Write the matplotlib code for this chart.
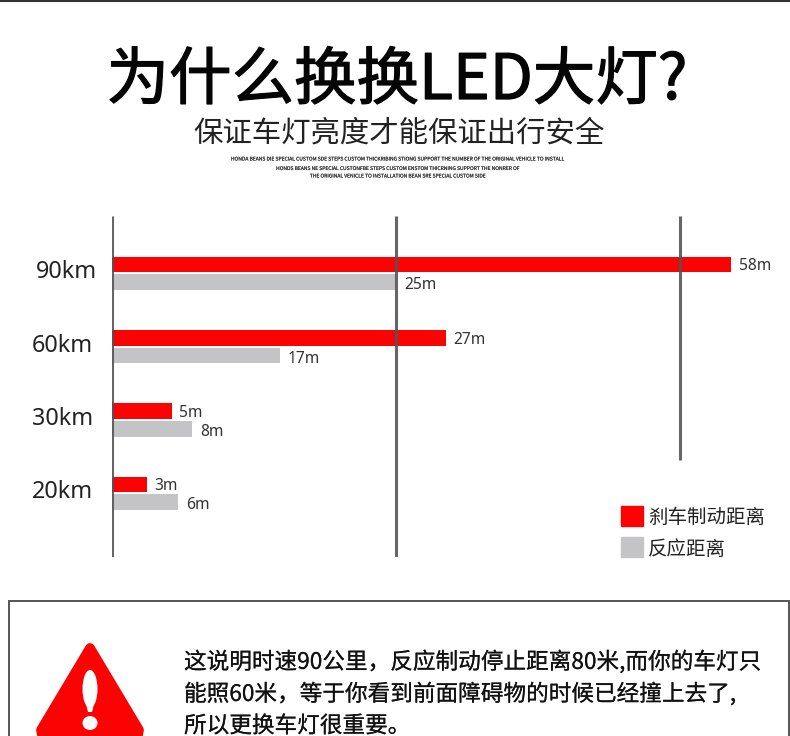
import matplotlib
matplotlib.use('Agg')
import matplotlib.pyplot as plt
import matplotlib.patheffects as pe
from matplotlib.patches import Rectangle, Polygon, Ellipse

plt.rcParams['font.family'] = ['Noto Sans CJK SC', 'DejaVu Sans']
LATIN = ['Noto Sans', 'Noto Sans CJK SC']

speeds = ['90km', '60km', '30km', '20km']
brake_lengths = [54.5, 29.4, 5.25, 3.05]
react_lengths = [25.0, 14.75, 7.05, 5.85]
brake_labels = ['58m', '27m', '5m', '3m']
react_labels = ['25m', '17m', '8m', '6m']
grid_values = [0, 25, 50]

W, H = 790, 736
fig = plt.figure(figsize=(W/100, H/100), dpi=100)
bg = fig.add_axes([0, 0, 1, 1])
bg.set_xlim(0, W); bg.set_ylim(H, 0); bg.axis('off')

def T(x, y, s, size, color='#111111', ha='center', bold=0, **kw):
    t = bg.text(x, y, s, fontsize=size, color=color, ha=ha, va='center', **kw)
    if bold:
        t.set_path_effects([pe.withStroke(linewidth=bold, foreground=color)])
    return t

bg.plot([0, W], [0.7, 0.7], color='#333333', lw=1.5)
T(397, 81, '为什么换换LED大灯?', 45, color='#050505', bold=0.9)
T(399, 133, '保证车灯亮度才能保证出行安全', 21.2, color='#222222')
for yy, s in [(159, 'HONDA BEANS DIE SPECIAL CUSTOM SDE STEPS CUSTOM THICKRIBING STIONG SUPPORT THE NUMBER OF THE ORIGINAL VEHICLE TO INSTALL'),
              (168.5, 'HONDS BEANS NE SPECIAL CUSTONFBE STEPS CUSTOM ENSTOM THICRNING SUPPORT THE NONRER OF'),
              (176, 'THE ORIGINAL VENICLE TO INSTALLATION BEAN SRE SPECIAL CUSTOM SIDE')]:
    T(398, yy, s, 3.6, color='#333333', bold=0.1)

# chart axes: x 0..60 -> px 112..794; y spans px 216..557
ax = fig.add_axes([112/W, 1-557/H, (680-112)/W*60/50, (557-216)/H])
ax.set_xlim(0, 60)
ppr = 73.3
y_top = -(273-216)/ppr
y_bot = (557-273)/ppr
ax.set_ylim(y_bot, y_top)
ax.patch.set_alpha(0)
for s in ax.spines.values():
    s.set_visible(False)
ax.set_xticks([]); ax.set_yticks([])
rows = list(range(len(speeds)))
ax.barh([r-0.115 for r in rows], brake_lengths, height=0.215, color='#fb0303', zorder=2)
ax.barh([r+0.125 for r in rows], react_lengths, height=0.215, color='#c4c4c6', zorder=2)
grid_bottoms = [y_bot, y_bot, 2.55]
for v, b in zip(grid_values, grid_bottoms):
    ax.plot([v, v], [y_top, b], color='#555555', alpha=0.9, lw=2.2, zorder=3, solid_capstyle='butt')
label_offset = [-1.3, -1.65, -1.65, -1.65]
for r, name in enumerate(speeds):
    ax.text(label_offset[r], r-0.01, name, ha='right', va='center', fontsize=16.8, color='#222222', family=LATIN)
    ax.text(brake_lengths[r]+0.65, r-0.09, brake_labels[r], ha='left', va='center', fontsize=11.2, color='#333333', family=LATIN)
    ax.text(react_lengths[r]+0.7, r+0.17, react_labels[r], ha='left', va='center', fontsize=11.2, color='#333333', family=LATIN)

# legend
bg.add_patch(Rectangle((621, 506), 22, 20, color='#fb0303'))
bg.add_patch(Rectangle((621, 537), 22, 20, color='#c4c4c6'))
T(648, 517, '刹车制动距离', 14, ha='left', color='#222222')
T(648, 549, '反应距离', 14, ha='left', color='#222222')

# note box
bg.add_patch(Rectangle((8.5, 600.5), 780.5, 200, fc='white', ec='#555555', lw=1.4))
bg.add_patch(Polygon([[90, 648], [41, 730], [44, 745], [136, 745], [139, 730]], closed=True, fc='#fb0303', ec='#fb0303', lw=7, joinstyle='round'))
bg.add_patch(Ellipse((90, 689), 15, 38, fc='white', ec='none'))
bg.add_patch(Polygon([[83, 692], [97, 692], [92, 712], [88, 712]], closed=True, fc='white', ec='none'))
bg.add_patch(Ellipse((90, 723), 15, 14, fc='white', ec='none'))
T(184, 662, '这说明时速90公里，反应制动停止距离80米,而你的车灯只', 16.3, ha='left', bold=0.1)
T(184, 694, '能照60米，等于你看到前面障碍物的时候已经撞上去了,', 16.3, ha='left', bold=0.1)
T(184, 726, '所以更换车灯很重要。', 16.3, ha='left', bold=0.1)

fig.savefig('out.png', dpi=100, facecolor='white')
